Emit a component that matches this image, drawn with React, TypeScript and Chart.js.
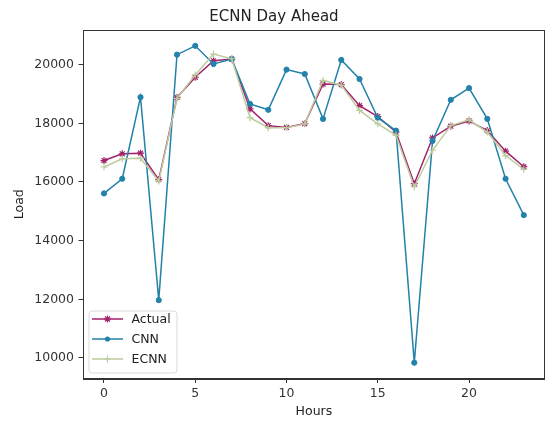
import React, { useEffect, useRef } from "react";
import { Chart, registerables } from "chart.js";

Chart.register(...registerables);

const hours = [0, 1, 2, 3, 4, 5, 6, 7, 8, 9, 10, 11, 12, 13, 14, 15, 16, 17, 18, 19, 20, 21, 22, 23];
const actual = [16730, 16960, 16980, 16080, 18880, 19570, 20130, 20190, 18490, 17920, 17860, 17990, 19340, 19320, 18600, 18230, 17700, 15940, 17500, 17900, 18080, 17750, 17050, 16520];
const cnn = [15610, 16110, 18890, 11970, 20340, 20640, 20020, 20190, 18660, 18460, 19830, 19680, 18150, 20160, 19510, 18190, 17750, 9840, 17400, 18800, 19200, 18150, 16110, 14870];
const ecnn = [16510, 16790, 16810, 16030, 18850, 19650, 20360, 20200, 18190, 17850, 17850, 17980, 19460, 19300, 18440, 17980, 17590, 15830, 17080, 17920, 18120, 17700, 16900, 16430];
const xTicks = [0, 5, 10, 15, 20];
const yTicks = [10000, 12000, 14000, 16000, 18000, 20000];

const seriesNames = ["Actual", "CNN", "ECNN"];
const seriesColors = ["#a2226a", "#2282aa", "#bccc9e"];
const seriesMarkers = ["star", "circle", "cross"];

const FONT = "'DejaVu Sans', sans-serif";

function drawMarker(ctx: CanvasRenderingContext2D, style: string, x: number, y: number, r: number, color: string) {
  ctx.save();
  ctx.strokeStyle = color;
  ctx.fillStyle = color;
  ctx.lineWidth = 1.2;
  ctx.beginPath();
  if (style === "circle") {
    ctx.arc(x, y, r, 0, Math.PI * 2);
    ctx.fill();
  } else if (style === "cross") {
    ctx.moveTo(x - r, y);
    ctx.lineTo(x + r, y);
    ctx.moveTo(x, y - r);
    ctx.lineTo(x, y + r);
    ctx.stroke();
  } else {
    for (let k = 0; k < 4; k++) {
      const a = (k * Math.PI) / 4;
      ctx.moveTo(x - r * Math.cos(a), y - r * Math.sin(a));
      ctx.lineTo(x + r * Math.cos(a), y + r * Math.sin(a));
    }
    ctx.stroke();
  }
  ctx.restore();
}

const frameAndLegend = {
  id: "frameAndLegend",
  afterDatasetsDraw(chart: any) {
    const { ctx, chartArea } = chart;
    const { left, right, top, bottom } = chartArea;
    ctx.save();
    ctx.strokeStyle = "#333";
    ctx.lineWidth = 1;
    ctx.strokeRect(Math.round(left) + 0.5, Math.round(top) + 0.5, Math.round(right - left) - 1, Math.round(bottom - top));
    // legend
    const bx = left + 6;
    const by = bottom - 67.5;
    const bw = 88;
    const bh = 62;
    ctx.fillStyle = "rgba(255,255,255,0.85)";
    ctx.strokeStyle = "#d9d9d9";
    ctx.lineWidth = 1;
    ctx.beginPath();
    const r = 3;
    ctx.moveTo(bx + r, by);
    ctx.lineTo(bx + bw - r, by);
    ctx.quadraticCurveTo(bx + bw, by, bx + bw, by + r);
    ctx.lineTo(bx + bw, by + bh - r);
    ctx.quadraticCurveTo(bx + bw, by + bh, bx + bw - r, by + bh);
    ctx.lineTo(bx + r, by + bh);
    ctx.quadraticCurveTo(bx, by + bh, bx, by + bh - r);
    ctx.lineTo(bx, by + r);
    ctx.quadraticCurveTo(bx, by, bx + r, by);
    ctx.closePath();
    ctx.fill();
    ctx.stroke();
    ctx.font = `12.5px ${FONT}`;
    ctx.textBaseline = "middle";
    ctx.textAlign = "left";
    for (let i = 0; i < seriesNames.length; i++) {
      const y = by + 8 + i * 20;
      ctx.strokeStyle = seriesColors[i];
      ctx.lineWidth = 1.5;
      ctx.beginPath();
      ctx.moveTo(bx + 3, y);
      ctx.lineTo(bx + 34, y);
      ctx.stroke();
      drawMarker(ctx, seriesMarkers[i], bx + 18.5, y, i === 1 ? 2.6 : 3.5, seriesColors[i]);
      ctx.fillStyle = "#222";
      ctx.fillText(seriesNames[i], bx + 42.5, y + 1);
    }
    ctx.restore();
  },
};

export default function App() {
  const ref = useRef<HTMLCanvasElement>(null);
  useEffect(() => {
    document.body.style.margin = "0";
    const canvas = ref.current!;
    const data = [actual, cnn, ecnn];
    const chart = new Chart(canvas, {
      type: "line",
      data: {
        datasets: seriesNames.map((name, i) => ({
          label: name,
          data: hours.map((h, j) => ({ x: h, y: data[i][j] })),
          borderColor: seriesColors[i],
          backgroundColor: seriesColors[i],
          borderWidth: 1.5,
          pointStyle: seriesMarkers[i] as any,
          pointRadius: i === 1 ? 2.6 : 3.5,
          pointBorderWidth: i === 1 ? 1 : 1.2,
          tension: 0,
          order: 3 - i,
        })),
      },
      options: {
        animation: false,
        responsive: false,
        maintainAspectRatio: false,
        devicePixelRatio: 1,
        layout: { padding: { top: 0, right: 2, left: 0, bottom: 0 } },
        plugins: {
          legend: { display: false },
          tooltip: { enabled: false },
          title: {
            display: true,
            text: "ECNN Day Ahead",
            color: "#222",
            font: { family: FONT, size: 15, weight: "normal", lineHeight: 1.2 },
            padding: { top: 8, bottom: 4 },
          },
        },
        scales: {
          x: {
            type: "linear",
            min: -1.15,
            max: 24.15,
            afterFit(scale: any) {
              scale.height = 42.5;
            },
            afterBuildTicks(scale: any) {
              scale.ticks = xTicks.map((v) => ({ value: v }));
            },
            ticks: {
              color: "#333",
              font: { family: FONT, size: 12.5, lineHeight: 1.2 },
              padding: 3,
              maxRotation: 0,
              autoSkip: false,
            },
            grid: { drawOnChartArea: false, drawTicks: true, tickLength: 4.5, color: "#333" },
            border: { display: true, color: "#333" },
            title: {
              display: true,
              text: "Hours",
              color: "#222",
              font: { family: FONT, size: 12.5, lineHeight: 1.2 },
              padding: { top: 0, bottom: 1.5 },
            },
          },
          y: {
            type: "linear",
            min: 9300,
            max: 21180,
            afterFit(scale: any) {
              scale.width = 83;
            },
            afterBuildTicks(scale: any) {
              scale.ticks = yTicks.map((v) => ({ value: v }));
            },
            ticks: {
              color: "#333",
              font: { family: FONT, size: 12.5, lineHeight: 1.2 },
              padding: 4.5,
              autoSkip: false,
              callback: (v: any) => String(v),
            },
            grid: { drawOnChartArea: false, drawTicks: true, tickLength: 4.5, color: "#333" },
            border: { display: true, color: "#333" },
            title: {
              display: true,
              text: "Load",
              color: "#222",
              font: { family: FONT, size: 12.5, lineHeight: 1.2 },
              padding: { top: 12.5, bottom: 0 },
            },
          },
        },
      },
      plugins: [frameAndLegend],
    });
    return () => chart.destroy();
  }, []);
  return (
    <div style={{ position: "absolute", left: 0, top: 0, width: 550, height: 421, background: "#fff" }}>
      <canvas ref={ref} width={550} height={421} style={{ width: 550, height: 421, display: "block" }} />
    </div>
  );
}
